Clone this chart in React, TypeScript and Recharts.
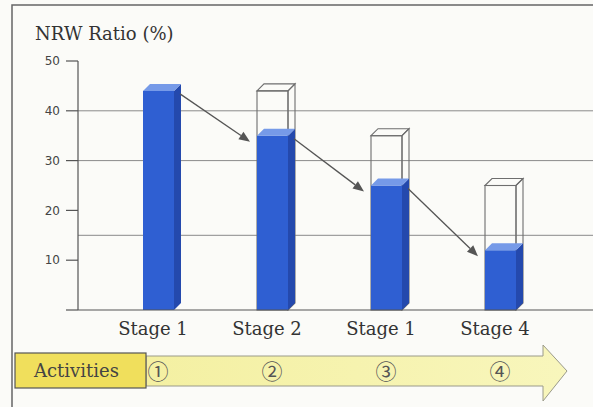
import React from 'react';
import { BarChart, Bar, XAxis, YAxis, CartesianGrid, ReferenceLine } from 'recharts';

const stageIds = ['s1', 's2', 's3', 's4'];
const stageLabels = ['Stage 1', 'Stage 2', 'Stage 1', 'Stage 4'];
const nrwRatio = [44, 35, 25, 12];
const previousRatio = [null, 44, 35, 25];
const activityMarks = ['①', '②', '③', '④'];
const yTicks = [0, 10, 20, 30, 40, 50];
const gridValues = [15, 30, 40];

const chartData = stageIds.map((id, i) => ({
  id,
  ratio: nrwRatio[i],
  previous: previousRatio[i],
}));

const DX = 7;
const DY = 7;
const SERIF = '"DejaVu Serif", "Liberation Serif", serif';

const BlueBar3D = (props: any) => {
  const { x, y, width, height } = props;
  if (!height || height <= 0) return <g />;
  const base = y + height;
  const r = x + width;
  return (
    <g>
      <rect x={x} y={y} width={width} height={height} fill="#2f5fd2" />
      <polygon points={`${r},${y} ${r + DX},${y - DY} ${r + DX},${base - DY} ${r},${base}`} fill="#2449ad" />
      <polygon points={`${x},${y} ${x + DX},${y - DY} ${r + DX},${y - DY} ${r},${y}`} fill="#769ae8" />
    </g>
  );
};

const GhostBar3D = (props: any) => {
  const { x, y, width, height } = props;
  if (!height || height <= 0) return <g />;
  const base = y + height;
  const r = x + width;
  return (
    <g fill="none" stroke="#6e6e6e" strokeWidth={1.1}>
      <rect x={x} y={y} width={width} height={height} />
      <polygon points={`${r},${y} ${r + DX},${y - DY} ${r + DX},${base - DY} ${r},${base}`} />
      <polygon points={`${x},${y} ${x + DX},${y - DY} ${r + DX},${y - DY} ${r},${y}`} />
    </g>
  );
};

const arrowShape = (props: any) => {
  const { x1, y1, x2, y2 } = props;
  const sx = x1 + 22;
  const sy = y1 + 3;
  const ex = x2 - 22;
  const ey = y2 + 6;
  const ang = Math.atan2(ey - sy, ex - sx);
  const len = 11;
  const hw = 4.5;
  const bx = ex - len * Math.cos(ang);
  const by = ey - len * Math.sin(ang);
  const px = -Math.sin(ang) * hw;
  const py = Math.cos(ang) * hw;
  return (
    <g>
      <line x1={sx} y1={sy} x2={bx} y2={by} stroke="#555" strokeWidth={1.3} />
      <polygon points={`${ex},${ey} ${bx + px},${by + py} ${bx - px},${by - py}`} fill="#555" />
    </g>
  );
};

const StageTick = (props: any) => {
  const { x, y, index } = props;
  return (
    <text x={x - 5} y={y} dy="0.71em" textAnchor="middle" fontFamily="DejaVu Serif" fontSize={18} fill="#333">
      {stageLabels[index]}
    </text>
  );
};

const ActivityTick = (props: any) => {
  const { x, y, index } = props;
  return (
    <text x={x} y={y} dy={31} textAnchor="middle" fontFamily="Noto Sans CJK JP" fontSize={21} fill="#555">
      {activityMarks[index]}
    </text>
  );
};

export default function App() {
  return (
    <div style={{ position: 'absolute', left: 0, top: 0, width: 593, height: 407, background: '#fbfbf8', overflow: 'hidden' }}>
      <svg width={593} height={407} style={{ position: 'absolute', left: 0, top: 0 }}>
        <defs>
          <linearGradient id="actFill" x1="0" y1="0" x2="1" y2="0">
            <stop offset="0%" stopColor="#f4f0a2" />
            <stop offset="100%" stopColor="#f8f6bc" />
          </linearGradient>
        </defs>
        <polyline points="12,407 12,5 593,5" fill="none" stroke="#666" strokeWidth={1.5} />
        <text x={35} y={40} style={{ fontFamily: SERIF, fontSize: 18 }} fill="#333">NRW Ratio (%)</text>
        <polygon
          points="146,356 543,356 543,345 567,371 543,401 543,386 146,386"
          fill="url(#actFill)"
          stroke="#9a9a8a"
          strokeWidth={1}
        />
        <rect x={15} y={353} width={131} height={35} fill="#f0df5c" stroke="#555" strokeWidth={1.2} />
        <text x={34} y={377} style={{ fontFamily: SERIF, fontSize: 18 }} fill="#444">Activities</text>
      </svg>
      <div style={{ position: 'absolute', left: 0, top: 0 }}>
        <BarChart
          width={593}
          height={407}
          data={chartData}
          margin={{ top: 61, right: 0, bottom: 0, left: 0 }}
          barSize={31}
          barGap={-31}
        >
          <CartesianGrid vertical={false} horizontalValues={gridValues} stroke="#8a8a8a" strokeWidth={1} />
          <XAxis
            dataKey="id"
            height={30}
            padding={{ left: 23, right: 36 }}
            axisLine={{ stroke: '#555', strokeWidth: 1.2 }}
            tickLine={false}
            tickSize={6}
            tickMargin={6}
            tick={<StageTick />}
            interval={0}
          />
          <XAxis
            xAxisId="act"
            dataKey="id"
            height={67}
            padding={{ left: 23, right: 36 }}
            axisLine={false}
            tickLine={false}
            tick={<ActivityTick />}
            interval={0}
          />
          <YAxis
            width={78}
            domain={[0, 50]}
            ticks={yTicks}
            interval={0}
            tickSize={12}
            tickMargin={6}
            axisLine={{ stroke: '#555', strokeWidth: 1.2 }}
            tickLine={{ stroke: '#555', strokeWidth: 1.2 }}
            tick={{ fontFamily: '"DejaVu Sans", sans-serif', fontSize: 12, fill: '#444' }}
            tickFormatter={(v: number) => (v === 0 ? '' : String(v))}
          />
          <Bar dataKey="previous" shape={<GhostBar3D />} isAnimationActive={false} />
          <Bar dataKey="ratio" shape={<BlueBar3D />} isAnimationActive={false} />
          {stageIds.slice(0, -1).map((id, i) => (
            <ReferenceLine
              key={id}
              ifOverflow="visible"
              segment={[
                { x: id, y: nrwRatio[i] },
                { x: stageIds[i + 1], y: nrwRatio[i + 1] },
              ]}
              shape={arrowShape}
            />
          ))}
        </BarChart>
      </div>
    </div>
  );
}
